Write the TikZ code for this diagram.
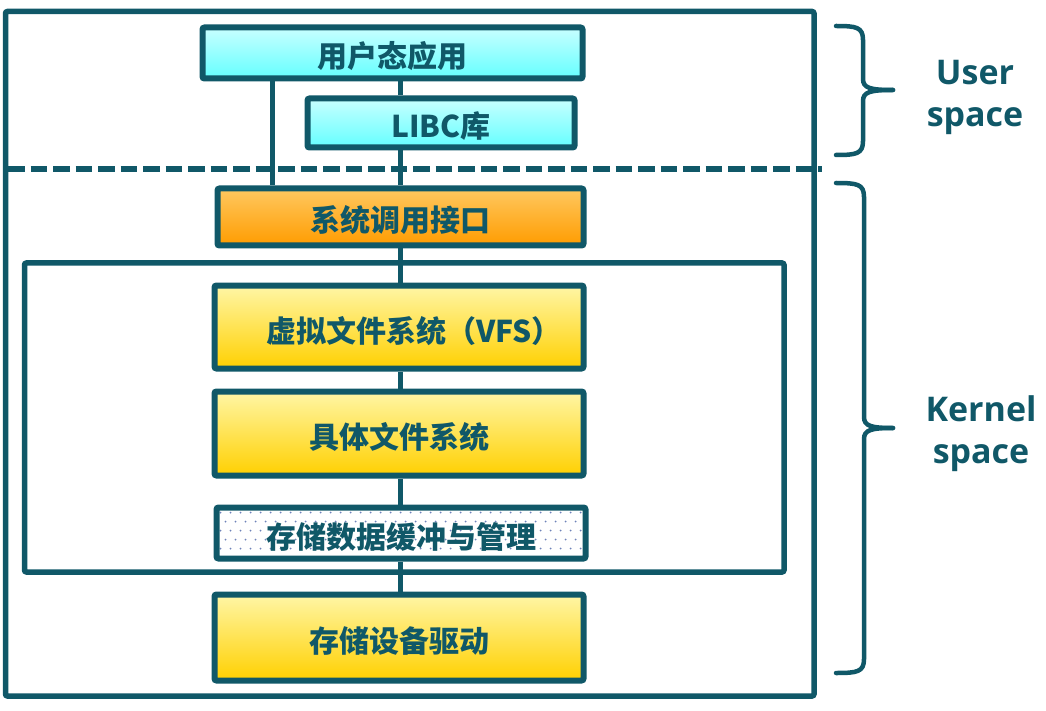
\documentclass[tikz,border=0pt]{standalone}
\usepackage{fontspec}
\newfontfamily\cjk{Noto Sans CJK SC}
\newfontfamily\latinf{Open Sans}
\usetikzlibrary{calc}
\definecolor{teal}{RGB}{16,88,104}
\definecolor{dotc}{RGB}{110,130,185}
\tikzset{
  box/.style={draw=teal, line width=6pt, rounded corners=2pt, inner sep=0pt,
    text height=30pt, text depth=0pt,
    font=\cjk\bfseries\fontsize{30}{34}\selectfont, text=teal},
  cyanbox/.style={box, top color={rgb,255:red,200;green,255;blue,255}, bottom color={rgb,255:red,100;green,255;blue,255}},
  orangebox/.style={box, top color={rgb,255:red,255;green,200;blue,96}, bottom color={rgb,255:red,255;green,156;blue,0}},
  yellowbox/.style={box, top color={rgb,255:red,255;green,246;blue,166}, bottom color={rgb,255:red,255;green,208;blue,0}},
  dotbox/.style={box, fill=white, path picture={
      \foreach \i in {0,...,37} \foreach \j in {0,...,5} {
        \fill[dotc] ($(path picture bounding box.north west)+({\i*10+4+mod(\j,2)*5},{\j*9+5})$) circle (1);
      }}},
  link/.style={draw=teal, line width=5pt},
  frame/.style={draw=teal, line width=5.5pt, rounded corners=2pt},
  brace/.style={draw=teal, line width=4.5pt, line cap=round},
  side/.style={font=\latinf\bfseries\fontsize{34}{42}\selectfont, text=teal, align=center}
}
\begin{document}
\begin{tikzpicture}[x=1pt, y=-1pt]
\useasboundingbox (0,0) rectangle (1046,711);
% frames
\node[frame, minimum width=808.5, minimum height=684.5] (outer) at (409.75,353.75) {};
\node[frame, minimum width=759.5, minimum height=309] (inner) at (404.25,417.5) {};
\coordinate (dl) at (8,169);
\coordinate (dr) at (822,169);
\draw[draw=teal, line width=6pt, dash pattern=on 16.5pt off 6pt] (dl) -- (dr);
% boxes
\node[cyanbox, minimum width=380, minimum height=51] (app) at (392.5,53) {用户态应用};
\node[cyanbox, minimum width=267, minimum height=49] (libc) at (441,123) {LIBC库};
\node[orangebox, minimum width=366, minimum height=57] (sci) at (400.5,217) {系统调用接口};
\node[yellowbox, minimum width=369, minimum height=83] (vfs) at (399,327) {\hspace*{30pt}虚拟文件系统（VFS）};
\node[yellowbox, minimum width=369, minimum height=84] (fs) at (399,433.5) {具体文件系统};
\node[dotbox, minimum width=369, minimum height=51] (buf) at (401,533) {存储数据缓冲与管理};
\node[yellowbox, minimum width=369, minimum height=86] (drv) at (399,637.5) {存储设备驱动};
% connectors
\coordinate (cx) at (400.5,0);
\coordinate (lx) at (272,0);
\draw[link] (app.south -| cx) -- (libc.north -| cx);
\draw[link] (libc.south -| cx) -- (sci.north -| cx);
\draw[link] (sci.south -| cx) -- (vfs.north -| cx);
\draw[link] (vfs.south -| cx) -- (fs.north -| cx);
\draw[link] (fs.south -| cx) -- (buf.north -| cx);
\draw[link] (buf.south -| cx) -- (drv.north -| cx);
\draw[link] (app.south -| lx) -- (sci.north -| lx);
% braces
\draw[brace] (836,26) .. controls (856,26) and (863,27) .. (863,40) -- (863,79) .. controls (863,88) and (870,90) .. (893,90);
\draw[brace] (836,155) .. controls (856,155) and (863,154) .. (863,141) -- (863,101) .. controls (863,92) and (870,90) .. (893,90);
\draw[brace] (836,183) .. controls (857,183) and (864,184) .. (864,197) -- (864,417) .. controls (864,426) and (871,428) .. (893,428);
\draw[brace] (836,673) .. controls (857,673) and (864,672) .. (864,659) -- (864,439) .. controls (864,430) and (871,428) .. (893,428);
\node[side] (us) at (975,97) {User\\space};
\node[side] (ks) at (981,434) {Kernel\\space};
\end{tikzpicture}
\end{document}
